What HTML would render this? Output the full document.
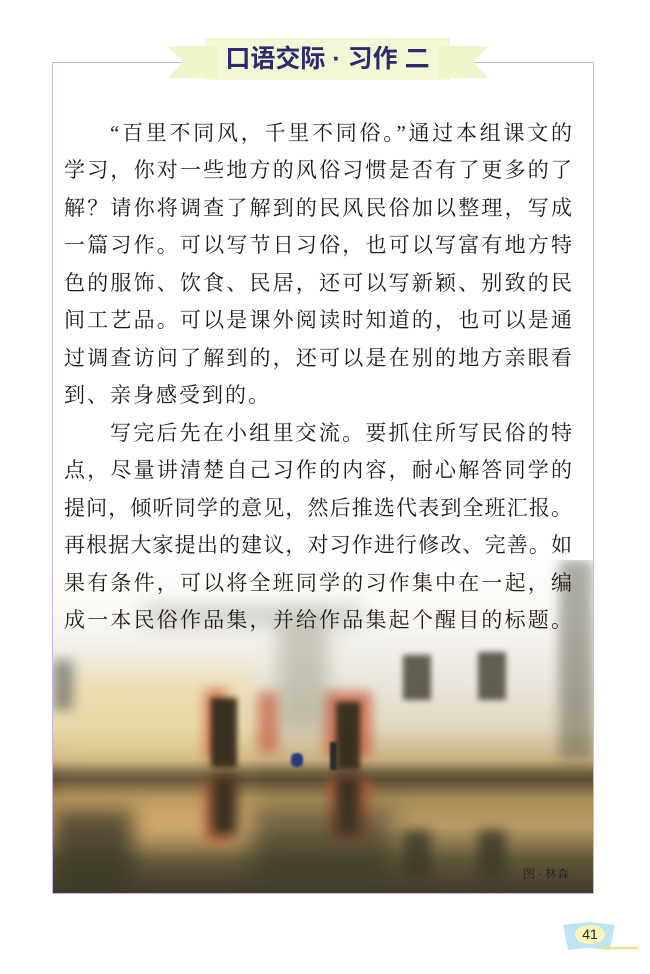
<!DOCTYPE html>
<html><head><meta charset="utf-8"><style>
body{margin:0;width:650px;height:974px;background:#fff;position:relative;overflow:hidden;font-family:"Liberation Serif","Noto Serif CJK SC",serif}
.abs{position:absolute}
.line{position:absolute;left:64px;width:508px;height:30px;font-size:21px;line-height:30px;color:#1e1a16;text-align:justify;text-align-last:justify;white-space:nowrap}
.b{filter:blur(6px);position:absolute}
</style></head><body>
<div class="abs" style="left:52px;top:62px;width:542px;height:832px;border:1px solid #c9b6e0;box-sizing:border-box"></div>
<div class="abs" style="left:205px;top:38px;width:245px;height:42px;background:#f2f8d6"></div>
<div class="abs" style="left:168px;top:46px;width:50px;height:32px;background:#eef5c8;clip-path:polygon(0 0,100% 0,100% 100%,0 100%,30% 50%)"></div>
<div class="abs" style="left:438px;top:46px;width:50px;height:32px;background:#eef5c8;clip-path:polygon(0 0,100% 0,70% 50%,100% 100%,0 100%)"></div>
<div class="abs" style="left:205px;top:38px;width:245px;height:42px;line-height:42px;text-align:center;font-family:'Liberation Sans','Noto Sans CJK SC',sans-serif;font-weight:bold;font-size:25px;color:#2e2a6e">口语交际 · 习作 二</div>

<div class="abs" style="left:53px;top:560px;width:540px;height:333px;overflow:hidden;background:linear-gradient(#fff 0%,#fbfaf7 15%,#ebe8e0 35%,#e2d8c0 50%,#c8b080 60%,#6e6040 64%,#5a4e34 66%,#a88e58 72%,#b89a66 80%,#5e5638 90%,#443c2c 100%)">
<div class="b" style="left:0;top:110px;width:200px;height:90px;background:#f0d890;opacity:.55;filter:blur(14px)"></div>
<div class="b" style="left:0;top:235px;width:200px;height:50px;background:#e0b070;opacity:.6;filter:blur(14px)"></div>
<div class="b" style="left:90px;top:45px;width:220px;height:20px;background:#7a7a70;opacity:.35;filter:blur(10px)"></div>
<div class="b" style="left:0;top:100px;width:20px;height:50px;background:#555;opacity:.6"></div>
<div class="b" style="left:152px;top:130px;width:22px;height:70px;background:#c85a3a;opacity:.8"></div>
<div class="b" style="left:205px;top:132px;width:20px;height:60px;background:#c85a3a;opacity:.7"></div>
<div class="b" style="left:158px;top:138px;width:26px;height:70px;background:#3a3020;filter:blur(3px)"></div>
<div class="b" style="left:272px;top:132px;width:46px;height:65px;background:#c85a3a;opacity:.8"></div>
<div class="b" style="left:283px;top:142px;width:24px;height:68px;background:#3a3020;filter:blur(3px)"></div>
<div class="b" style="left:350px;top:95px;width:28px;height:45px;background:#4a4638;filter:blur(3px);opacity:.85"></div>
<div class="b" style="left:425px;top:92px;width:28px;height:48px;background:#4a4638;filter:blur(3px);opacity:.85"></div>
<div class="b" style="left:225px;top:60px;width:50px;height:110px;background:#7a7a60;opacity:.35;filter:blur(10px)"></div>
<div class="b" style="left:506px;top:0px;width:34px;height:200px;background:#5a5a4a;opacity:.5"></div>
<div class="abs" style="left:277px;top:182px;width:7px;height:28px;background:#2a2a30;filter:blur(1px)"></div>
<div class="abs" style="left:238px;top:193px;width:12px;height:14px;background:#2a3a80;border-radius:5px;filter:blur(1px)"></div>
<div class="b" style="left:152px;top:218px;width:24px;height:65px;background:#c85a3a;opacity:.7"></div>
<div class="b" style="left:158px;top:215px;width:26px;height:60px;background:#3a3020"></div>
<div class="b" style="left:275px;top:218px;width:42px;height:65px;background:#c85a3a;opacity:.7"></div>
<div class="b" style="left:283px;top:215px;width:24px;height:60px;background:#3a3020"></div>
<div class="b" style="left:0;top:250px;width:80px;height:83px;background:#3a3828;opacity:.8;filter:blur(10px)"></div>
<div class="b" style="left:200px;top:250px;width:140px;height:83px;background:#3a3a28;opacity:.6;filter:blur(12px)"></div>
<div class="b" style="left:350px;top:270px;width:28px;height:50px;background:#3a3828;opacity:.8"></div>
<div class="b" style="left:425px;top:270px;width:28px;height:50px;background:#3a3828;opacity:.8"></div>
<div class="abs" style="left:470px;top:305px;font-size:12px;color:#222">图 · 林森</div>
</div>

<div class="line" style="top:118px;left:110px;width:462px">“百里不同风，千里不同俗。”通过本组课文的</div>
<div class="line" style="top:155px">学习，你对一些地方的风俗习惯是否有了更多的了</div>
<div class="line" style="top:193px">解？请你将调查了解到的民风民俗加以整理，写成</div>
<div class="line" style="top:230px">一篇习作。可以写节日习俗，也可以写富有地方特</div>
<div class="line" style="top:268px">色的服饰、饮食、民居，还可以写新颖、别致的民</div>
<div class="line" style="top:305px">间工艺品。可以是课外阅读时知道的，也可以是通</div>
<div class="line" style="top:343px">过调查访问了解到的，还可以是在别的地方亲眼看</div>
<div class="line" style="top:380px;text-align-last:left;letter-spacing:2px">到、亲身感受到的。</div>
<div class="line" style="top:418px;left:110px;width:462px">写完后先在小组里交流。要抓住所写民俗的特</div>
<div class="line" style="top:455px">点，尽量讲清楚自己习作的内容，耐心解答同学的</div>
<div class="line" style="top:493px">提问，倾听同学的意见，然后推选代表到全班汇报。</div>
<div class="line" style="top:530px">再根据大家提出的建议，对习作进行修改、完善。如</div>
<div class="line" style="top:568px">果有条件，可以将全班同学的习作集中在一起，编</div>
<div class="line" style="top:605px">成一本民俗作品集，并给作品集起个醒目的标题。</div>

<div class="abs" style="left:563px;top:922px;width:52px;height:28px;background:#bfe4f4;clip-path:polygon(0 10%,50% 0,100% 10%,90% 100%,50% 92%,10% 100%)"></div>
<div class="abs" style="left:575px;top:925px;width:30px;height:19px;background:#fbf6b8;border-radius:50%;text-align:center;line-height:19px;font-family:'Liberation Sans',sans-serif;font-size:14px;color:#222">41</div>
<div class="abs" style="left:600px;top:947px;width:38px;height:2px;background:#f2e27a"></div>
</body></html>
